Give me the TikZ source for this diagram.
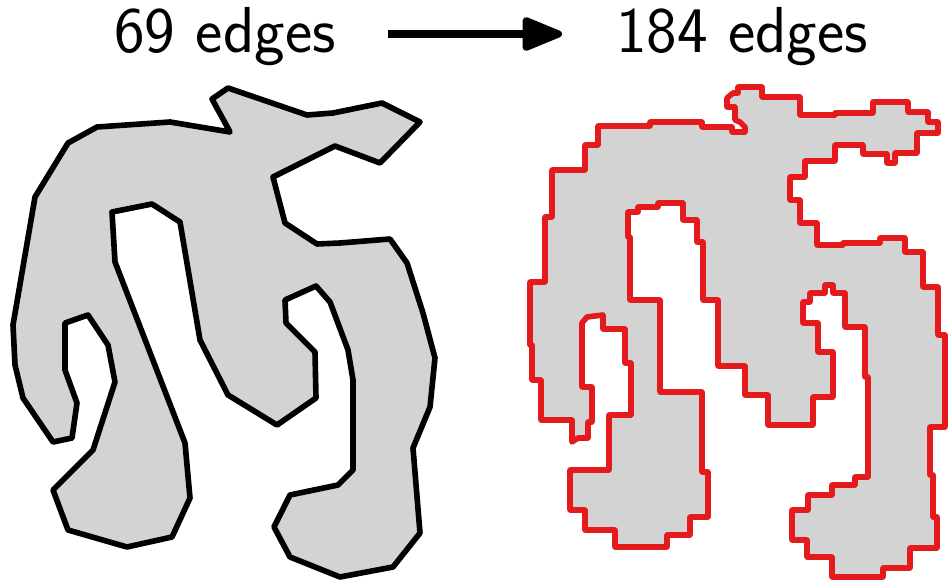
\documentclass[tikz,border=0pt]{standalone}
\usepackage{tikz}
\usetikzlibrary{arrows.meta}
\definecolor{edgeRed}{HTML}{E41A1C}
\definecolor{fillGray}{HTML}{D3D3D3}

\begin{document}
\begin{tikzpicture}[x=0.02cm, y=-0.02cm,
      >={Triangle[length=26pt, width=20pt, round]},
      ttl/.style={font=\fontsize{37}{44}\selectfont\sffamily, inner sep=0pt, anchor=base},
      poly/.style={draw=black, fill=fillGray, line width=3.2pt, line join=round},
      ortho/.style={draw=edgeRed, fill=fillGray, line width=3.2pt, line join=round}]
    \useasboundingbox (0,0) rectangle (950,581);

    \node[ttl] (before) at (225,53) {69 edges};
    \node[ttl] (after)  at (742,53) {184 edges};
    \coordinate (arrS) at (388,34);
    \coordinate (arrE) at (562,34);
    \draw[->, line width=4pt] (arrS) -- (arrE);

    % input polygon
    \draw[poly] (97,127) -- (170,122) -- (230,132) -- (212,99) -- (228,88)
      -- (307,115) -- (333,113) -- (382,103) -- (420,122) -- (380,163)
      -- (335,146) -- (273,177) -- (285,223) -- (317,244) -- (340,243)
      -- (390,239) -- (407,263) -- (423,313) -- (435,358) -- (430,407)
      -- (413,448) -- (420,533) -- (393,567) -- (340,577) -- (290,557)
      -- (274,527) -- (290,495) -- (338,485) -- (353,470) -- (353,380)
      -- (348,350) -- (330,302) -- (316,286) -- (285,300) -- (286,323)
      -- (315,352) -- (316,398) -- (277,425) -- (228,395) -- (200,340)
      -- (180,222) -- (152,204) -- (112,212) -- (115,262) -- (185,443)
      -- (190,498) -- (172,537) -- (127,547) -- (68,530) -- (53,490)
      -- (93,450) -- (115,382) -- (108,345) -- (88,315) -- (65,323)
      -- (65,370) -- (77,403) -- (72,438) -- (53,442) -- (23,398)
      -- (15,365) -- (13,325) -- (35,197) -- (68,143) -- cycle;

    % rectilinear version
    \draw[ortho] (598,126) -- (650,126) -- (650,122) -- (702,122) -- (702,127)
      -- (732,127) -- (732,132) -- (745,132) -- (745,127) -- (740,122)
      -- (735,120) -- (735,107) -- (727,107) -- (727,98) -- (733,93)
      -- (738,93) -- (738,87) -- (762,87) -- (762,97) -- (800,97)
      -- (800,115) -- (835,115) -- (835,113) -- (873,113) -- (873,102)
      -- (908,102) -- (908,112) -- (928,112) -- (928,122) -- (938,122)
      -- (938,133) -- (917,133) -- (917,153) -- (895,153) -- (895,163)
      -- (887,163) -- (887,154) -- (863,154) -- (863,145) -- (835,145)
      -- (835,161) -- (805,161) -- (805,177) -- (790,177) -- (790,200)
      -- (800,200) -- (800,223) -- (817,223) -- (817,245) -- (843,245)
      -- (843,243) -- (880,243) -- (880,238) -- (905,238) -- (905,252)
      -- (923,252) -- (923,287) -- (938,287) -- (938,335) -- (945,335)
      -- (945,427) -- (930,427) -- (930,475) -- (933,475) -- (933,517)
      -- (937,517) -- (937,548) -- (910,548) -- (910,568) -- (883,568)
      -- (883,577) -- (832,577) -- (832,557) -- (807,557) -- (807,540)
      -- (792,540) -- (792,510) -- (808,510) -- (808,495) -- (832,495)
      -- (832,485) -- (855,485) -- (855,477) -- (868,477) -- (868,377)
      -- (865,377) -- (865,327) -- (845,327) -- (845,293) -- (833,293)
      -- (833,285) -- (825,285) -- (825,293) -- (810,293) -- (810,302)
      -- (803,302) -- (803,323) -- (818,323) -- (818,352) -- (833,352)
      -- (833,397) -- (813,397) -- (813,425) -- (768,425) -- (768,395)
      -- (745,395) -- (745,366) -- (718,366) -- (718,300) -- (703,300)
      -- (703,242) -- (697,242) -- (697,220) -- (683,220) -- (683,203)
      -- (658,203) -- (658,207) -- (638,207) -- (638,212) -- (628,212)
      -- (628,237) -- (630,237) -- (630,300) -- (660,300) -- (660,392)
      -- (702,392) -- (702,472) -- (708,472) -- (708,517) -- (690,517)
      -- (690,535) -- (667,535) -- (667,547) -- (615,547) -- (615,530)
      -- (585,530) -- (585,510) -- (570,510) -- (570,470) -- (609,470)
      -- (609,415) -- (631,415) -- (631,363) -- (625,363) -- (625,329)
      -- (603,329) -- (603,315) -- (587,317) -- (582,323) -- (582,387)
      -- (592,387) -- (592,422) -- (588,422) -- (588,438) -- (578,438)
      -- (572,442) -- (572,420) -- (541,420) -- (541,380) -- (532,380)
      -- (532,345) -- (530,345) -- (530,282) -- (545,282) -- (545,217)
      -- (552,217) -- (552,170) -- (585,170) -- (585,145) -- (598,145)
      -- cycle;
  \end{tikzpicture}
\end{document}
